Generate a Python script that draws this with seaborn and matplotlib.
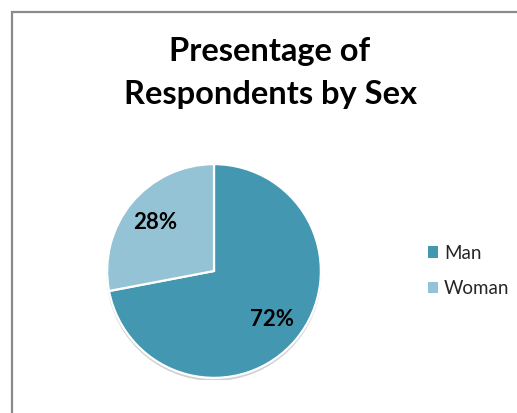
import matplotlib
matplotlib.use("Agg")
import matplotlib.pyplot as plt
import matplotlib.patches as mpatches
import seaborn as sns

# ---- data ----
categories = ["Man", "Woman"]
shares = [72, 28]
title_lines = ["Presentage of", "Respondents by Sex"]
colors = ["#4397B0", "#93C3D4"]

sns.set_theme(style="white")
plt.rcParams["font.family"] = ["Lato", "DejaVu Sans"]

W, H = 517, 413
fig = plt.figure(figsize=(W / 100, H / 100), dpi=100)
fig.patch.set_facecolor("white")

# chart-area frame (left and top edges visible; rest cropped)
frame = mpatches.Rectangle((12 / W, -0.2), 1.2, 1.2 - 12 / H,
                           transform=fig.transFigure, fill=False,
                           edgecolor="#8a8a8a", linewidth=1.6, clip_on=False)
fig.add_artist(frame)

# pie axes: diameter ~218px, left 105px, bottom 380px
ax = fig.add_axes([105 / W, (H - 380) / H, 218 / W, 218 / H])
shadow = mpatches.Circle((0.0, -0.022), 1.0, color="#d2d2d2", zorder=0)
ax.add_patch(shadow)
wedges, texts, autotexts = ax.pie(
    shares, colors=colors, startangle=90, counterclock=False,
    autopct=lambda p: f"{p:.0f}%", pctdistance=0.71,
    wedgeprops=dict(edgecolor="white", linewidth=1.6),
    textprops=dict(fontsize=16, fontweight="bold", color="black"),
)
for w in wedges:
    w.set_zorder(2)
for t in autotexts:
    t.set_zorder(3)
ax.set_xlim(-1.02, 1.02)
ax.set_ylim(-1.02, 1.02)
ax.set_aspect("equal")
ax.axis("off")

# title (centred on the full chart area)
fig.text(270 / W, 1 - 61 / H, title_lines[0], ha="center", va="baseline",
         fontsize=23.5, fontweight="bold", color="black")
fig.text(270 / W, 1 - 104 / H, title_lines[1], ha="center", va="baseline",
         fontsize=23.5, fontweight="bold", color="black")

# legend
handles = [mpatches.Patch(facecolor=c, edgecolor="none") for c in colors]
fig.legend(handles, categories, loc="center left",
           bbox_to_anchor=(428 / W, 1 - 271 / H), frameon=False,
           fontsize=13.5, handlelength=0.55, handleheight=0.55,
           handletextpad=0.3, labelspacing=1.0, borderpad=0,
           borderaxespad=0, labelcolor="#262626")

fig.savefig("out.png", dpi=100, facecolor="white")
